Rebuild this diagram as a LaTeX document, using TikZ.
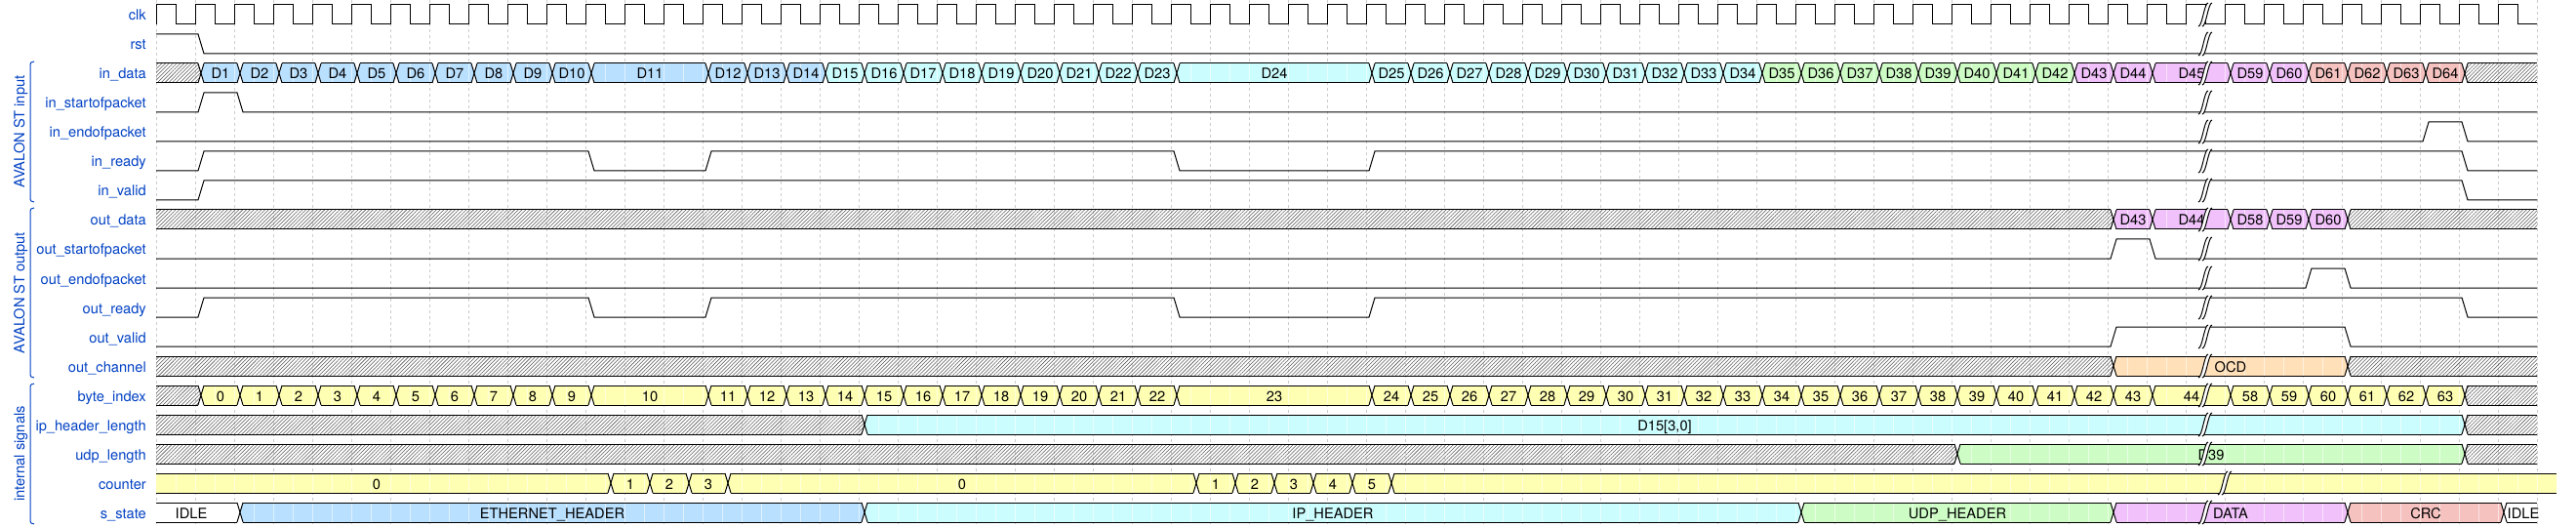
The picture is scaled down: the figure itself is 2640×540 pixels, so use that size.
\documentclass[tikz,border=0pt]{standalone}
\usepackage{fontspec}
\setmainfont{TeX Gyre Heros}
\usetikzlibrary{patterns.meta}
\definecolor{cyel}{HTML}{FFFFB4}
\definecolor{corg}{HTML}{FFE0B9}
\definecolor{cblu}{HTML}{B9E0FF}
\definecolor{ccya}{HTML}{CCFDFE}
\definecolor{cgrn}{HTML}{CDFDC5}
\definecolor{cpur}{HTML}{F0C1FB}
\definecolor{cred}{HTML}{F5C2C0}
\definecolor{lblue}{HTML}{0041C4}
\tikzset{
  wline/.style={line width=1pt, black, line join=miter},
  gridln/.style={line width=0.5pt, black!20, dash pattern=on 3pt off 3pt},
  hatchfill/.style={pattern={Lines[angle=45,distance=2.7pt,line width=0.55pt]}, pattern color=black!65},
  seam/.style={white, line width=0.5pt, opacity=0.55},
  dtext/.style={font=\fontsize{14.67}{17}\selectfont, anchor=base, inner sep=0pt, text=black},
  slabel/.style={font=\fontsize{14.67}{17}\selectfont, anchor=base east, inner sep=0pt, text=lblue},
  glabel/.style={font=\fontsize{14.67}{17}\selectfont, anchor=base, inner sep=0pt, text=lblue, rotate=90},
  gbr/.style={lblue, line width=1pt},
}
\def\hatchname{hatch}
\newcommand\dcell[5]{%
\begingroup
\pgfmathsetmacro\yc{15+30*(#1)}%
\pgfmathsetmacro\yt{\yc-10}%
\pgfmathsetmacro\yb{\yc+10}%
\pgfmathsetmacro\xs{160+40*(#2)}%
\pgfmathsetmacro\xe{160+40*(#3)}%
\pgfmathtruncatemacro\isfirst{((#2)<0.01)?1:0}%
\pgfmathtruncatemacro\islast{((#3)>60.99)?1:0}%
\ifnum\isfirst=1
  \coordinate (Lt) at (\xs,\yt);
  \coordinate (Lb) at (\xs,\yb);
  \coordinate (Lm) at (\xs,\yc);
  \pgfmathsetmacro\lx{(\xs+\xe)/2-4}%
\else
  \coordinate (Lt) at (\xs+9,\yt);
  \coordinate (Lb) at (\xs+9,\yb);
  \coordinate (Lm) at (\xs+6,\yc);
  \pgfmathsetmacro\lx{(\xs+\xe)/2+6}%
\fi
\ifnum\islast=1
  \coordinate (Rt) at (\xe,\yt);
  \coordinate (Rb) at (\xe,\yb);
  \coordinate (Rm) at (\xe,\yc);
\else
  \coordinate (Rt) at (\xe+3,\yt);
  \coordinate (Rb) at (\xe+3,\yb);
  \coordinate (Rm) at (\xe+6,\yc);
\fi
\def\tmpa{#4}%
\ifx\tmpa\hatchname
  \fill[hatchfill] (Lt) -- (Rt) -- (Rm) -- (Rb) -- (Lb) -- (Lm) -- cycle;
\else
  \fill[fill=#4] (Lt) -- (Rt) -- (Rm) -- (Rb) -- (Lb) -- (Lm) -- cycle;
  \pgfmathtruncatemacro\ja{2*(#2)+1}%
  \pgfmathtruncatemacro\jb{2*(#3)}%
  \begin{scope}
    \clip (Lt) -- (Rt) -- (Rm) -- (Rb) -- (Lb) -- (Lm) -- cycle;
    \foreach \j in {\ja,...,\jb} {\draw[seam] ({160+20*\j},\yt) -- ({160+20*\j},\yb);}
  \end{scope}
\fi
\draw[wline] (Lt) -- (Rt);
\draw[wline] (Lb) -- (Rb);
\ifnum\isfirst=0 \draw[wline] (Lt) -- (Lm) -- (Lb); \fi
\ifnum\islast=0 \draw[wline] (Rt) -- (Rm) -- (Rb); \fi
\node[dtext] at (\lx,\yc+6) {#5};
\endgroup
}
\newcommand\gapmark[2]{%
  \fill[white] (#1-7,#2+12) .. controls (#1-3,#2+12) and (#1-1,#2-12) .. (#1+3,#2-12)
     -- (#1+7,#2-12) .. controls (#1+3,#2-12) and (#1+1,#2+12) .. (#1-3,#2+12) -- cycle;
  \draw[wline] (#1-7,#2+12) .. controls (#1-3,#2+12) and (#1-1,#2-12) .. (#1+3,#2-12);
  \draw[wline] (#1-3,#2+12) .. controls (#1+1,#2+12) and (#1+3,#2-12) .. (#1+7,#2-12);
}
\begin{document}
\begin{tikzpicture}[x=1pt,y=-1pt]
\useasboundingbox (0,0) rectangle (2640,540);
\fill[white] (0,0) rectangle (2640,540);
% grid
\foreach \k in {0,...,61} {\draw[gridln] ({160+40*\k},0) -- ({160+40*\k},540);}
% signal names
\node[slabel] (n0) at (150,21) {clk};
\node[slabel] (n1) at (150,51) {rst};
\node[slabel] (n2) at (150,81) {in\_data};
\node[slabel] (n3) at (150,111) {in\_startofpacket};
\node[slabel] (n4) at (150,141) {in\_endofpacket};
\node[slabel] (n5) at (150,171) {in\_ready};
\node[slabel] (n6) at (150,201) {in\_valid};
\node[slabel] (n7) at (150,231) {out\_data};
\node[slabel] (n8) at (150,261) {out\_startofpacket};
\node[slabel] (n9) at (150,291) {out\_endofpacket};
\node[slabel] (n10) at (150,321) {out\_ready};
\node[slabel] (n11) at (150,351) {out\_valid};
\node[slabel] (n12) at (150,381) {out\_channel};
\node[slabel] (n13) at (150,411) {byte\_index};
\node[slabel] (n14) at (150,441) {ip\_header\_length};
\node[slabel] (n15) at (150,471) {udp\_length};
\node[slabel] (n16) at (150,501) {counter};
\node[slabel] (n17) at (150,531) {s\_state};
% groups
\draw[gbr] (35,63) .. controls (32,63) and (31,64) .. (31,68) -- (31,202) .. controls (31,206) and (32,207) .. (35,207);
\draw[gbr] (35,213) .. controls (32,213) and (31,214) .. (31,218) -- (31,382) .. controls (31,386) and (32,387) .. (35,387);
\draw[gbr] (35,393) .. controls (32,393) and (31,394) .. (31,398) -- (31,532) .. controls (31,536) and (32,537) .. (35,537);
\node[glabel] (g1) at (25,135) {AVALON ST input};
\node[glabel] (g2) at (25,300) {AVALON ST output};
\node[glabel] (g3) at (25,465) {internal signals};
% clk
\draw[wline] (160,25) foreach \k in {0,...,60} { -- ({160+40*\k},5) -- ({180+40*\k},5) -- ({180+40*\k},25) -- ({200+40*\k},25) };
% binary signals
\draw[wline] (160,35) -- (203,35) -- (209,55) -- (2600,55);
\draw[wline] (160,115) -- (203,115) -- (209,95) -- (243,95) -- (249,115) -- (2600,115);
\draw[wline] (160,145) -- (2483,145) -- (2489,125) -- (2523,125) -- (2529,145) -- (2600,145);
\draw[wline] (160,175) -- (203,175) -- (209,155) -- (603,155) -- (609,175) -- (723,175) -- (729,155) -- (1203,155) -- (1209,175) -- (1403,175) -- (1409,155) -- (2523,155) -- (2529,175) -- (2600,175);
\draw[wline] (160,205) -- (203,205) -- (209,185) -- (2523,185) -- (2529,205) -- (2600,205);
\draw[wline] (160,265) -- (2163,265) -- (2169,245) -- (2203,245) -- (2209,265) -- (2600,265);
\draw[wline] (160,295) -- (2363,295) -- (2369,275) -- (2403,275) -- (2409,295) -- (2600,295);
\draw[wline] (160,325) -- (203,325) -- (209,305) -- (603,305) -- (609,325) -- (723,325) -- (729,305) -- (1203,305) -- (1209,325) -- (1403,325) -- (1409,305) -- (2523,305) -- (2529,325) -- (2600,325);
\draw[wline] (160,355) -- (2163,355) -- (2169,335) -- (2403,335) -- (2409,355) -- (2600,355);
% in_data
\dcell{2}{0}{1}{hatch}{}
\foreach \i in {1,...,10} {\dcell{2}{\i}{\i+1}{cblu}{D\i}}
\dcell{2}{11}{14}{cblu}{D11}
\foreach \i in {12,13,14} {\dcell{2}{\i+2}{\i+3}{cblu}{D\i}}
\foreach \i in {15,...,23} {\dcell{2}{\i+2}{\i+3}{ccya}{D\i}}
\dcell{2}{26}{31}{ccya}{D24}
\foreach \i in {25,...,34} {\dcell{2}{\i+6}{\i+7}{ccya}{D\i}}
\foreach \i in {35,...,42} {\dcell{2}{\i+6}{\i+7}{cgrn}{D\i}}
\dcell{2}{49}{50}{cpur}{D43}
\dcell{2}{50}{51}{cpur}{D44}
\dcell{2}{51}{53}{cpur}{D45}
\dcell{2}{53}{54}{cpur}{D59}
\dcell{2}{54}{55}{cpur}{D60}
\foreach \i in {61,...,64} {\dcell{2}{\i-6}{\i-5}{cred}{D\i}}
\dcell{2}{59}{61}{hatch}{}
% out_data
\dcell{7}{0}{50}{hatch}{}
\dcell{7}{50}{51}{cpur}{D43}
\dcell{7}{51}{53}{cpur}{D44}
\dcell{7}{53}{54}{cpur}{D58}
\dcell{7}{54}{55}{cpur}{D59}
\dcell{7}{55}{56}{cpur}{D60}
\dcell{7}{56}{61}{hatch}{}
% out_channel
\dcell{12}{0}{50}{hatch}{}
\dcell{12}{50}{56}{corg}{OCD}
\dcell{12}{56}{61}{hatch}{}
% byte_index
\dcell{13}{0}{1}{hatch}{}
\foreach \i in {0,...,9} {\dcell{13}{\i+1}{\i+2}{cyel}{\i}}
\dcell{13}{11}{14}{cyel}{10}
\foreach \i in {11,...,22} {\dcell{13}{\i+3}{\i+4}{cyel}{\i}}
\dcell{13}{26}{31}{cyel}{23}
\foreach \i in {24,...,43} {\dcell{13}{\i+7}{\i+8}{cyel}{\i}}
\dcell{13}{51}{53}{cyel}{44}
\foreach \i in {58,...,63} {\dcell{13}{\i-5}{\i-4}{cyel}{\i}}
\dcell{13}{59}{61}{hatch}{}
% ip_header_length
\dcell{14}{0}{18}{hatch}{}
\dcell{14}{18}{59}{ccya}{D15[3,0]}
\dcell{14}{59}{61}{hatch}{}
% udp_length
\dcell{15}{0}{46}{hatch}{}
\dcell{15}{46}{59}{cgrn}{D39}
\dcell{15}{59}{61}{hatch}{}
% counter
\dcell{16}{0}{11.5}{cyel}{0}
\dcell{16}{11.5}{12.5}{cyel}{1}
\dcell{16}{12.5}{13.5}{cyel}{2}
\dcell{16}{13.5}{14.5}{cyel}{3}
\dcell{16}{14.5}{26.5}{cyel}{0}
\foreach \i in {1,...,5} {\dcell{16}{\i+25.5}{\i+26.5}{cyel}{\i}}
\dcell{16}{31.5}{61.5}{cyel}{}
% s_state
\dcell{17}{0}{2}{white}{IDLE}
\dcell{17}{2}{18}{cblu}{ETHERNET\_HEADER}
\dcell{17}{18}{42}{ccya}{IP\_HEADER}
\dcell{17}{42}{50}{cgrn}{UDP\_HEADER}
\dcell{17}{50}{56}{cpur}{DATA}
\dcell{17}{56}{60}{cred}{CRC}
\dcell{17}{60}{61}{white}{IDLE}
% gaps
\foreach \r in {0,...,15} {\gapmark{2260}{15+30*\r}}
\gapmark{2280}{495}
\gapmark{2260}{525}
\end{tikzpicture}
\end{document}
